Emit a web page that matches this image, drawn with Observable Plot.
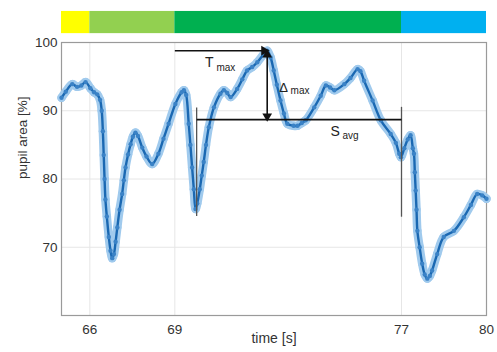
<!DOCTYPE html>
<html>
<head>
<meta charset="utf-8">
<script src="https://cdn.jsdelivr.net/npm/d3@7"></script>
<script src="https://cdn.jsdelivr.net/npm/@observablehq/plot@0.6"></script>
<style>
  html, body { margin: 0; padding: 0; background: #fff; }
  #chart svg { display: block; }
</style>
</head>
<body>
<div id="chart"></div>
<script>
// ---- data ----
const times = [65.00,65.15,65.38,65.55,65.70,65.85,66.02,66.15,66.26,66.36,66.42,66.46,66.49,66.52,66.55,66.60,66.67,66.73,66.79,66.85,66.91,66.97,67.05,67.14,67.20,67.26,67.35,67.44,67.52,67.61,67.70,67.85,68.00,68.20,68.42,68.60,68.78,69.02,69.24,69.32,69.40,69.49,69.55,69.61,69.67,69.73,69.79,69.88,69.95,70.02,70.10,70.20,70.38,70.61,70.73,70.85,70.97,71.20,71.38,71.55,71.73,71.91,72.14,72.26,72.38,72.49,72.60,72.73,72.85,72.97,73.19,73.33,73.48,73.62,73.92,74.15,74.33,74.48,74.63,74.98,75.20,75.45,75.55,75.68,75.98,76.27,76.62,76.80,76.92,76.98,77.10,77.22,77.32,77.40,77.44,77.47,77.50,77.53,77.56,77.64,77.73,77.82,77.91,78.00,78.08,78.26,78.49,78.85,79.20,79.45,79.67,79.85,80.00];
const pupil = [91.9,92.8,93.9,93.5,93.7,94.2,93.3,92.7,92.4,91.6,90.0,87.0,83.5,80.0,77.0,74.5,71.5,69.5,68.4,69.0,70.8,72.9,75.5,77.8,79.8,81.7,83.6,85.1,86.2,86.8,86.3,84.6,83.3,82.2,83.7,85.9,88.1,91.0,92.7,93.0,92.3,88.1,85.0,81.7,78.5,75.6,76.4,78.5,80.5,82.5,85.0,87.6,90.5,92.5,93.0,92.6,92.0,93.2,94.6,95.9,96.4,97.1,98.3,98.8,97.8,95.9,93.8,91.5,89.6,88.1,87.8,87.8,88.2,88.6,90.5,92.2,93.7,93.4,93.0,93.9,94.8,96.1,95.8,94.4,91.5,88.6,86.6,85.3,83.7,83.2,84.5,85.8,86.4,84.5,83.7,81.0,78.3,75.5,72.4,70.0,67.6,66.0,65.4,65.8,66.6,69.0,71.5,72.4,74.4,76.2,77.8,77.6,77.1];

const xTicks = [66, 69, 77, 80];
const yTicks = [70, 80, 90, 100];

// phases shown in the coloured band above the plot
const phaseStart = [65, 66, 69, 77];
const phaseEnd   = [66, 69, 77, 80];
const phaseColor = ["#ffff00", "#92d050", "#00b050", "#00b0f0"];

// annotations
const tmaxArrow = [{x1: 69.0, x2: 72.22, y: 98.8}];
const deltaArrow = [{x: 72.26, y1: 98.5, y2: 88.9}];
const savgLine = [{x1: 69.77, x2: 77.0, y: 88.7}];
const savgBounds = [{x: 69.77, y1: 90.4, y2: 74.5}, {x: 77.0, y1: 90.5, y2: 74.4}];
const labelMain = [
  {x: 70.22, y: 97.1, text: "T", size: 14},
  {x: 72.84, y: 93.4, text: "Δ", size: 13},
  {x: 74.66, y: 87.0, text: "S", size: 14}
];
const labelSub = [
  {x: 70.80, y: 96.35, text: "max"},
  {x: 73.42, y: 92.95, text: "max"},
  {x: 75.20, y: 86.3, text: "avg"}
];

const data = times.map((t, i) => ({t, v: pupil[i]}));
const phases = phaseStart.map((s, i) => ({start: s, end: phaseEnd[i], color: phaseColor[i]}));

const BAR_Y1 = 101.3, BAR_Y2 = 104.55;

const plot = Plot.plot({
  width: 497,
  height: 352,
  marginLeft: 61,
  marginRight: 11,
  marginTop: 42,
  marginBottom: 37,
  style: {fontFamily: "'Liberation Sans', Arial, sans-serif", fontSize: "13.5px", color: "#333", background: "#fff"},
  x: {domain: [65, 80]},
  y: {domain: [60, 100]},
  color: {type: "identity"},
  marks: [
    // coloured phase band
    Plot.rect(phases, {x1: "start", x2: "end", y1: BAR_Y1, y2: BAR_Y2, fill: "color"}),
    // grid
    Plot.ruleX(xTicks, {stroke: "#e6e6e6", strokeWidth: 1}),
    Plot.ruleY(yTicks, {stroke: "#e6e6e6", strokeWidth: 1}),
    // axes
    Plot.axisX(xTicks, {tickSize: 0, tickPadding: 9, label: null, fill: "#333"}),
    Plot.axisY(yTicks, {tickSize: 0, tickPadding: 4, label: null, fill: "#333"}),
    Plot.frame({stroke: "#9a9a9a", strokeWidth: 1.2}),
    Plot.text(["time [s]"], {frameAnchor: "bottom", dy: 27, fontSize: 14, fill: "#333"}),
    Plot.text(["pupil area [%]"], {frameAnchor: "left", rotate: -90, dx: -39, fontSize: 13.5, fill: "#333"}),
    // pupil curve
    Plot.dot(data, {x: "t", y: "v", r: 4.2, fill: "#93c3ea", stroke: "none"}),
    Plot.line(data, {x: "t", y: "v", curve: "catmull-rom", stroke: "#a0caed", strokeWidth: 8.5, strokeLinejoin: "round"}),
    Plot.line(data, {x: "t", y: "v", curve: "catmull-rom", stroke: "#1a68b2", strokeWidth: 2.4}),
    Plot.dot(data, {x: "t", y: "v", r: 2.2, fill: "#3a82c6", stroke: "none"}),
    // annotations
    Plot.ruleX(savgBounds, {x: "x", y1: "y1", y2: "y2", stroke: "#555", strokeWidth: 1.3}),
    Plot.link(savgLine, {x1: "x1", x2: "x2", y1: "y", y2: "y", stroke: "#111", strokeWidth: 1.6}),
    Plot.link(tmaxArrow, {x1: "x1", x2: "x2", y1: "y", y2: "y", stroke: "#111", strokeWidth: 1.6}),
    Plot.dot(tmaxArrow, {x: "x2", y: "y", symbol: "triangle", rotate: 90, r: 3.6, fill: "#111", dx: -2}),
    Plot.link(deltaArrow, {x1: "x", x2: "x", y1: "y1", y2: "y2", stroke: "#111", strokeWidth: 1.6}),
    Plot.dot(deltaArrow, {x: "x", y: "y1", symbol: "triangle", r: 3.6, fill: "#111", dy: 2}),
    Plot.dot(deltaArrow, {x: "x", y: "y2", symbol: "triangle", rotate: 180, r: 3.6, fill: "#111", dy: -2}),
    Plot.text(labelMain, {x: "x", y: "y", text: "text", fontSize: "size", fill: "#222"}),
    Plot.text(labelSub, {x: "x", y: "y", text: "text", fontSize: 10, fill: "#222"})
  ]
});
document.getElementById("chart").appendChild(plot);
</script>
</body>
</html>
